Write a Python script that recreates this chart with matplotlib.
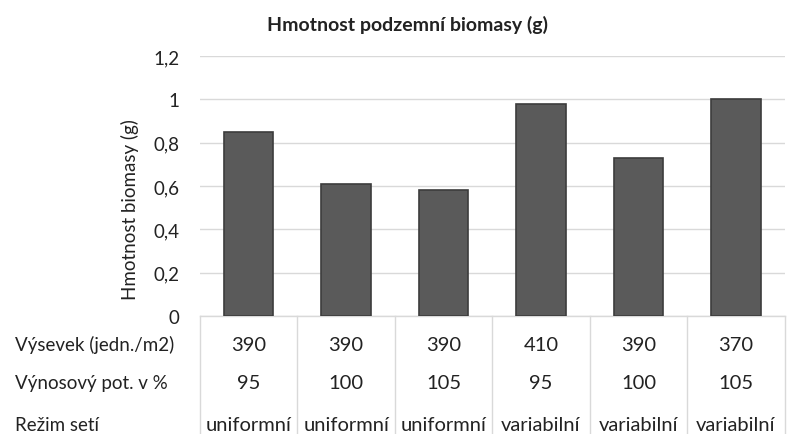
import matplotlib.pyplot as plt
from matplotlib.ticker import FuncFormatter

plt.rcParams['font.family'] = ['Lato', 'DejaVu Sans']

biomasa = [0.85, 0.61, 0.58, 0.98, 0.73, 1.0]
vysevek = ['390', '390', '390', '410', '390', '370']
vynos = ['95', '100', '105', '95', '100', '105']
rezim = ['uniformní', 'uniformní', 'uniformní', 'variabilní', 'variabilní', 'variabilní']
row_labels = ['Výsevek (jedn./m2)', 'Výnosový pot. v %', 'Režim setí']

fig = plt.figure(figsize=(7.87, 4.35), dpi=100)
ax = fig.add_axes([0.254, 0.271, 0.743, 0.598])

x = range(len(biomasa))
ax.bar(x, biomasa, width=0.51, color='#5a5a5a', edgecolor='#3c3c3c', linewidth=1.2, zorder=3)

ax.set_xlim(-0.5, len(biomasa) - 0.5)
ax.set_ylim(0, 1.2)
ax.set_yticks([0, 0.2, 0.4, 0.6, 0.8, 1.0, 1.2])
ax.yaxis.set_major_formatter(FuncFormatter(lambda v, p: ('%g' % round(v, 1)).replace('.', ',')))
ax.tick_params(axis='y', length=0, labelsize=13.5, pad=15, colors='#222222')
ax.set_xticks([])
ax.grid(axis='y', color='#d9d9d9', linewidth=1, zorder=0)
for s in ax.spines.values():
    s.set_visible(False)
ax.set_ylabel('Hmotnost biomasy (g)', fontsize=13.5, labelpad=10, color='#222222')
ax.yaxis.label.set_y(0.415)
fig.text(0.518, 0.942, 'Hmotnost podzemní biomasy (g)', ha='center', va='center',
         fontsize=14, fontweight='bold', color='#222222')

# table under the chart
tr = ax.get_xaxis_transform()
for b in [i - 0.5 for i in range(len(biomasa) + 1)]:
    ax.plot([b, b], [0, -0.46], transform=tr, color='#d9d9d9', lw=1, clip_on=False)
ax.plot([-0.5, len(biomasa) - 0.5], [0, 0], transform=tr, color='#d9d9d9', lw=1, clip_on=False)

row_y = [-0.108, -0.254, -0.415]
for row, yy in zip([vysevek, vynos, rezim], row_y):
    for i, v in enumerate(row):
        ax.text(i, yy, v, transform=tr, ha='center', va='center', fontsize=14.5, color='#222222')
for lab, yy in zip(row_labels, row_y):
    fig.text(0.019, 0.271 + yy * 0.598, lab, ha='left', va='center', fontsize=13.5, color='#222222')

fig.savefig('out.png', dpi=100)
